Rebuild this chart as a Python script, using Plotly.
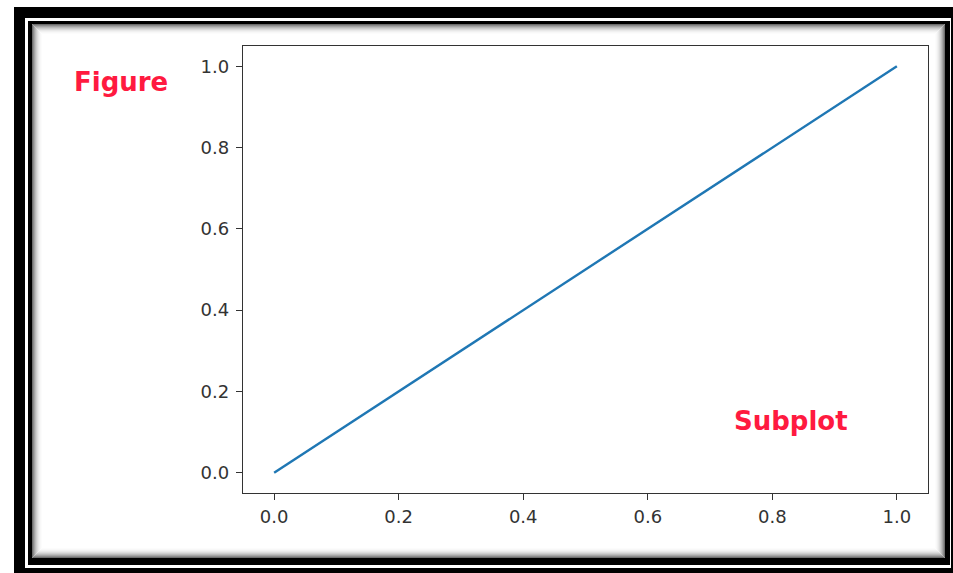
import plotly.graph_objects as go

# Data
x_values = [0.0, 1.0]
y_values = [0.0, 1.0]
tick_vals = [0.0, 0.2, 0.4, 0.6, 0.8, 1.0]
tick_text = ["0.0", "0.2", "0.4", "0.6", "0.8", "1.0"]
label_figure = "Figure"
label_subplot = "Subplot"

W, H = 953, 573
L, R, T, B = 243, 928, 46, 493


def px(x):
    return (x - L) / (R - L)


def py(y):
    return (B - y) / (B - T)


fig = go.Figure()
fig.add_trace(go.Scatter(x=x_values, y=y_values, mode="lines",
                         line=dict(color="#1f77b4", width=2.4),
                         showlegend=False, hoverinfo="skip"))

shapes = []


def rect(x0, y0, x1, y1, fill=None, line=None, lw=0):
    d = dict(type="rect", xref="paper", yref="paper",
             x0=px(x0), x1=px(x1), y0=py(y1), y1=py(y0), layer="below")
    d["fillcolor"] = fill if fill else "rgba(0,0,0,0)"
    d["line"] = dict(color=line, width=lw) if line else dict(width=0)
    shapes.append(d)


# outer thick black frame
rect(14, 7, 960, 580, fill="black")
rect(25, 18, 951, 568, fill="white")
# inner thin frame
rect(28, 21, 950, 565, fill="black")
rect(32, 24, 945, 558, fill="white")
# inner shadow gradient
grays = [110, 140, 165, 187, 205, 220, 232, 241, 248, 252]
for i, g in enumerate(grays):
    c = f"rgb({g},{g},{g})"
    rect(32 + i + 0.5, 24 + i + 0.5, 945 - i - 0.5, 558 - i - 0.5, line=c, lw=1)

tickfont = dict(family="DejaVu Sans", size=18, color="#333333")
axis_common = dict(range=[-0.05, 1.05], tickvals=tick_vals, ticktext=tick_text,
                   showgrid=False, zeroline=False, showline=True, mirror=True,
                   linecolor="#333333", linewidth=1.3, ticks="outside", ticklen=6,
                   tickcolor="#333333", tickwidth=1.3, tickfont=tickfont)

fig.update_layout(
    width=W, height=H,
    margin=dict(l=L, r=W - R, t=T, b=H - B, pad=0),
    paper_bgcolor="white", plot_bgcolor="white",
    shapes=shapes,
    xaxis=dict(axis_common, ticklabelstandoff=1),
    yaxis=dict(axis_common, ticklabelstandoff=3),
    annotations=[
        dict(text=label_figure, xref="paper", yref="paper", x=px(120.5), y=py(82),
             xanchor="center", yanchor="middle", showarrow=False,
             font=dict(family="DejaVu Sans", size=26, color="#ff1a40", weight="bold")),
        dict(text=label_subplot, xref="paper", yref="paper", x=px(791), y=py(421),
             xanchor="center", yanchor="middle", showarrow=False,
             font=dict(family="DejaVu Sans", size=26, color="#ff1a40", weight="bold")),
    ],
)

fig.write_html("out.html", config={"displayModeBar": False},
               post_script="document.body.style.margin='0';document.body.style.overflow='hidden';")
